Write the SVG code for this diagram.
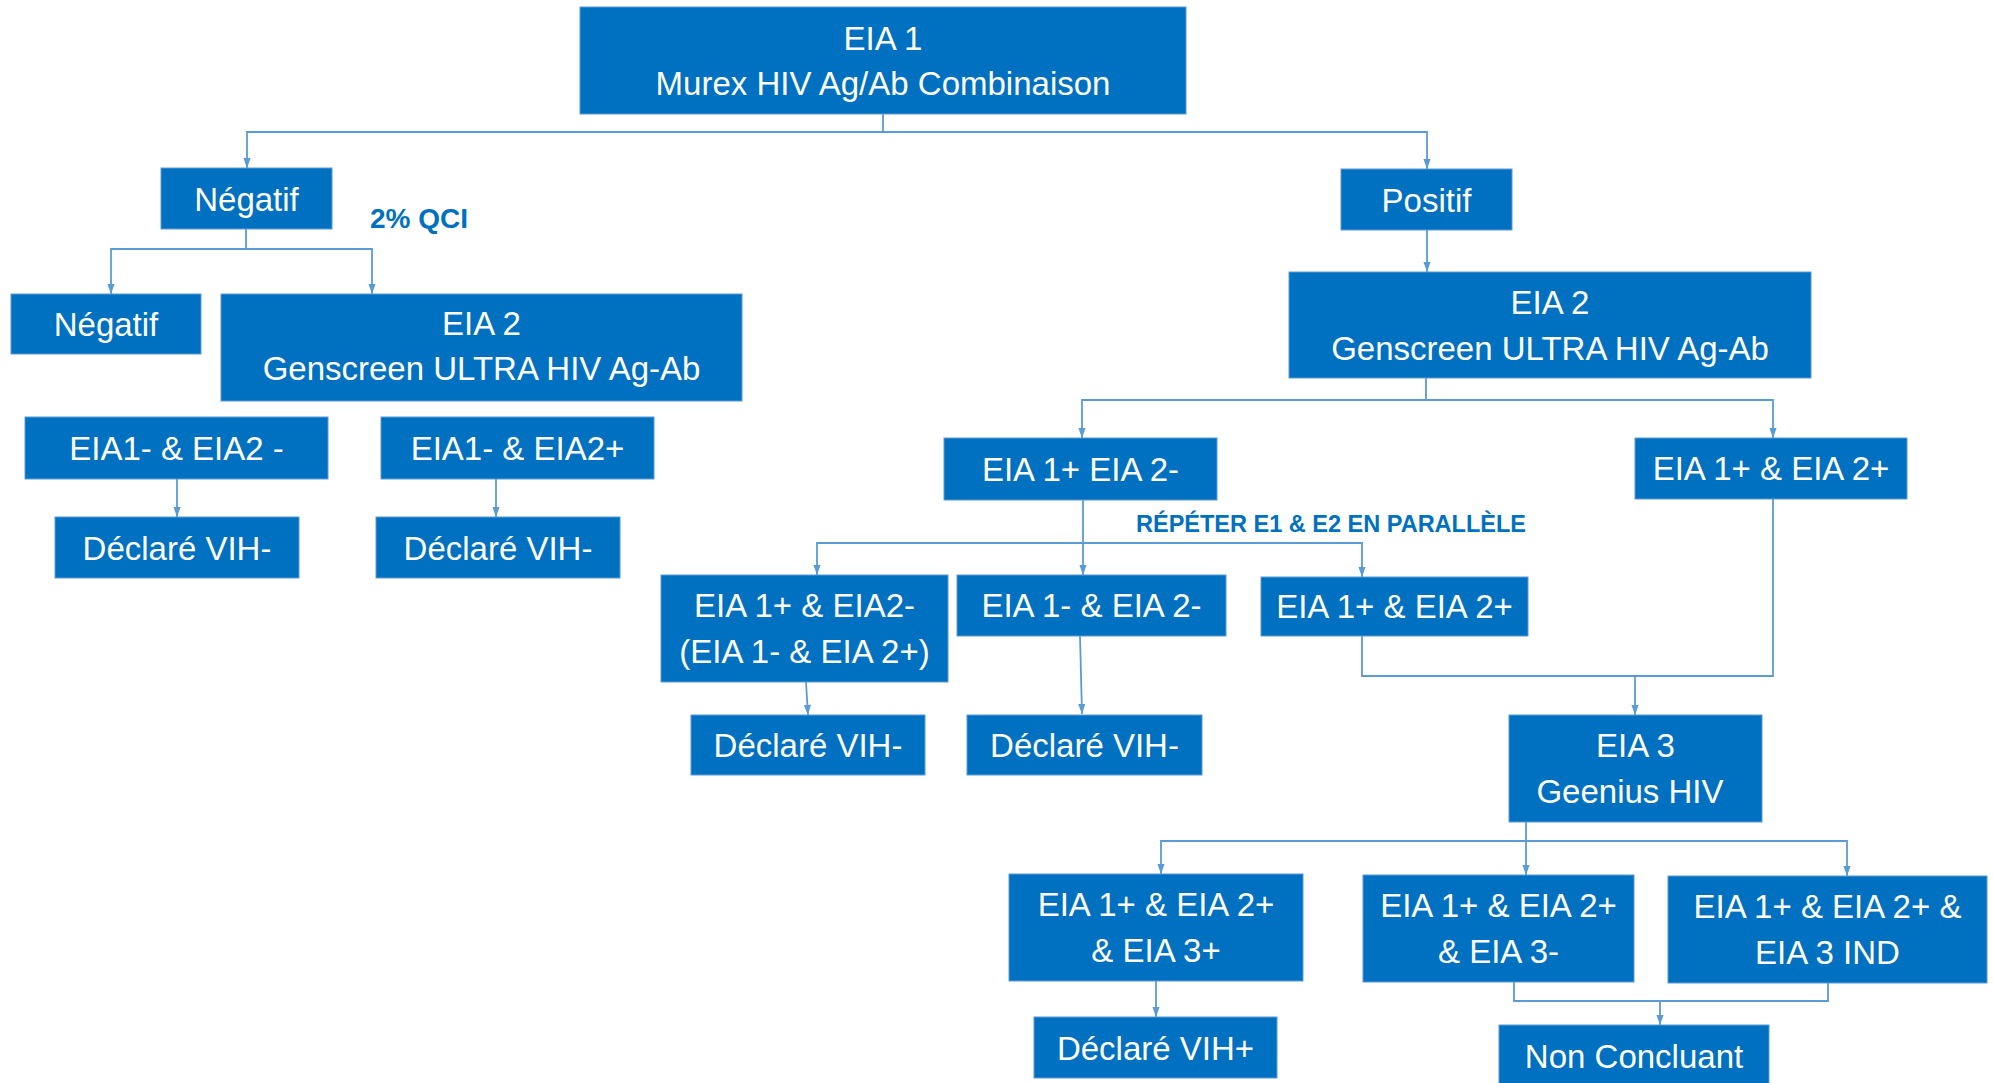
<svg xmlns="http://www.w3.org/2000/svg" width="1993" height="1083" viewBox="0 0 1993 1083">
<style>
.box{fill:#0070C0;stroke:#5B9BD5;stroke-width:1}
.t{font-family:"Liberation Sans",Arial,sans-serif;font-size:33px;fill:#FFFFFF;text-anchor:middle}
.lbl{font-family:"Liberation Sans",Arial,sans-serif;font-weight:bold;fill:#0070C0}
.c{fill:none;stroke:#5B9BD5;stroke-width:1.8}
</style>
<defs>
<marker id="ah" viewBox="0 0 10 14" refX="14" refY="5" markerWidth="14" markerHeight="10" markerUnits="userSpaceOnUse" orient="auto">
<path d="M0,0 L14,5 L0,10 z" fill="#5B9BD5"/>
</marker>
</defs>
<rect width="1993" height="1083" fill="#FFFFFF"/>
<g id="connectors">
<path class="c" d="M883,114 V132 H247 V168" marker-end="url(#ah)"/>
<path class="c" d="M883,132 H1427 V169" marker-end="url(#ah)"/>
<path class="c" d="M246,229 V249 H111 V294" marker-end="url(#ah)"/>
<path class="c" d="M246,249 H372 V294" marker-end="url(#ah)"/>
<path class="c" d="M1427,230 V272" marker-end="url(#ah)"/>
<path class="c" d="M1426,378 V400 H1082 V438" marker-end="url(#ah)"/>
<path class="c" d="M1426,400 H1773 V438" marker-end="url(#ah)"/>
<path class="c" d="M177,479 V517" marker-end="url(#ah)"/>
<path class="c" d="M496,479 V517" marker-end="url(#ah)"/>
<path class="c" d="M1083,500 V543 H817 V575" marker-end="url(#ah)"/>
<path class="c" d="M1083,543 V575" marker-end="url(#ah)"/>
<path class="c" d="M1083,543 H1362 V577" marker-end="url(#ah)"/>
<path class="c" d="M806,682 L808,715" marker-end="url(#ah)"/>
<path class="c" d="M1080,636 L1082,714" marker-end="url(#ah)"/>
<path class="c" d="M1362,636 V676 H1635 V715" marker-end="url(#ah)"/>
<path class="c" d="M1773,499 V676 H1635"/>
<path class="c" d="M1526,822 V841 H1161 V874" marker-end="url(#ah)"/>
<path class="c" d="M1526,841 V875" marker-end="url(#ah)"/>
<path class="c" d="M1526,841 H1847 V876" marker-end="url(#ah)"/>
<path class="c" d="M1156,981 V1017" marker-end="url(#ah)"/>
<path class="c" d="M1514,982 V1001 H1828 V983"/>
<path class="c" d="M1660,1001 V1025" marker-end="url(#ah)"/>
</g>
<g id="n-eia1"><rect class="box" x="580" y="7" width="606" height="107"/><text class="t" x="883" y="49.5">EIA 1</text><text class="t" x="883" y="94.5">Murex HIV Ag/Ab Combinaison</text></g>
<g id="n-negatif"><rect class="box" x="161" y="168" width="171" height="61"/><text class="t" x="246.5" y="210.5">Négatif</text></g>
<g id="n-positif"><rect class="box" x="1341" y="169" width="171" height="61"/><text class="t" x="1426.5" y="211.5">Positif</text></g>
<text class="lbl" x="370" y="228" font-size="28">2% QCI</text>
<g id="n-negatif2"><rect class="box" x="11" y="294" width="190" height="60"/><text class="t" x="106" y="336">Négatif</text></g>
<g id="n-eia2-left"><rect class="box" x="221" y="294" width="521" height="107"/><text class="t" x="481.5" y="335">EIA 2</text><text class="t" x="481.5" y="380">Genscreen ULTRA HIV Ag-Ab</text></g>
<g id="n-eia2-right"><rect class="box" x="1289" y="272" width="522" height="106"/><text class="t" x="1550" y="314">EIA 2</text><text class="t" x="1550" y="360">Genscreen ULTRA HIV Ag-Ab</text></g>
<g id="n-a"><rect class="box" x="25" y="417" width="303" height="62"/><text class="t" x="176.5" y="460">EIA1- &amp; EIA2 -</text></g>
<g id="n-b"><rect class="box" x="381" y="417" width="273" height="62"/><text class="t" x="517.5" y="460">EIA1- &amp; EIA2+</text></g>
<g id="n-c"><rect class="box" x="55" y="517" width="244" height="61"/><text class="t" x="177" y="560">Déclaré VIH-</text></g>
<g id="n-d"><rect class="box" x="376" y="517" width="244" height="61"/><text class="t" x="498" y="560">Déclaré VIH-</text></g>
<g id="n-e"><rect class="box" x="944" y="438" width="273" height="62"/><text class="t" x="1080.5" y="481">EIA 1+ EIA 2-</text></g>
<g id="n-f"><rect class="box" x="1635" y="438" width="272" height="61"/><text class="t" x="1771" y="480">EIA 1+ &amp; EIA 2+</text></g>
<text class="lbl" x="1136" y="532" font-size="23.5">RÉPÉTER E1 &amp; E2 EN PARALLÈLE</text>
<g id="n-g"><rect class="box" x="661" y="575" width="287" height="107"/><text class="t" x="804.5" y="617">EIA 1+ &amp; EIA2-</text><text class="t" x="804.5" y="663">(EIA 1- &amp; EIA 2+)</text></g>
<g id="n-h"><rect class="box" x="957" y="575" width="269" height="61"/><text class="t" x="1091.5" y="617">EIA 1- &amp; EIA 2-</text></g>
<g id="n-i"><rect class="box" x="1261" y="577" width="267" height="59"/><text class="t" x="1394.5" y="618">EIA 1+ &amp; EIA 2+</text></g>
<g id="n-j"><rect class="box" x="691" y="715" width="234" height="60"/><text class="t" x="808" y="757">Déclaré VIH-</text></g>
<g id="n-k"><rect class="box" x="967" y="715" width="235" height="60"/><text class="t" x="1084.5" y="757">Déclaré VIH-</text></g>
<g id="n-eia3"><rect class="box" x="1509" y="715" width="253" height="107"/><text class="t" x="1635.5" y="757">EIA 3</text><text class="t" x="1630" y="803">Geenius HIV</text></g>
<g id="n-b1"><rect class="box" x="1009" y="874" width="294" height="107"/><text class="t" x="1156" y="916">EIA 1+ &amp; EIA 2+</text><text class="t" x="1156" y="962">&amp; EIA 3+</text></g>
<g id="n-b2"><rect class="box" x="1363" y="875" width="271" height="107"/><text class="t" x="1498.5" y="917">EIA 1+ &amp; EIA 2+</text><text class="t" x="1498.5" y="963">&amp; EIA 3-</text></g>
<g id="n-b3"><rect class="box" x="1668" y="876" width="319" height="107"/><text class="t" x="1827.5" y="918">EIA 1+ &amp; EIA 2+ &amp;</text><text class="t" x="1827.5" y="964">EIA 3 IND</text></g>
<g id="n-vihplus"><rect class="box" x="1034" y="1017" width="243" height="61"/><text class="t" x="1155.5" y="1060">Déclaré VIH+</text></g>
<g id="n-nonconcl"><rect class="box" x="1499" y="1025" width="270" height="62"/><text class="t" x="1634" y="1068">Non Concluant</text></g>
</svg>
